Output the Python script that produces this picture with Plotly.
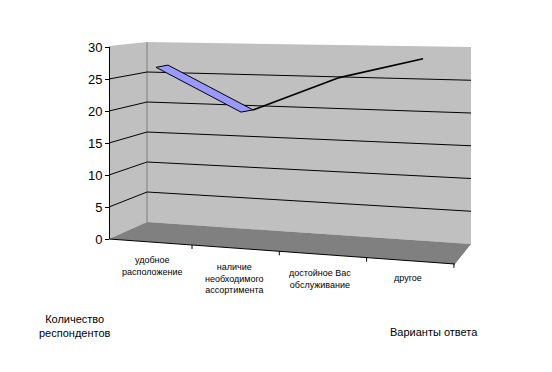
import plotly.graph_objects as go

# ---- data ----
CATEGORIES = ["удобное<br>расположение", "наличие<br>необходимого<br>ассортимента",
              "достойное Вас<br>обслуживание", "другое"]
VALUES = [27, 20, 25, 28]
Y_TICKS = [0, 5, 10, 15, 20, 25, 30]
Y_TITLE = "Количество<br>респондентов"
X_TITLE = "Варианты ответа"

# ---- layout constants (pixels) ----
W, H = 552, 372
L, R, T, B = 110, 471, 47, 239          # plot area in px
X0PX, XSTEP = 162.0, 85.0               # pixel of category 0, px per category
XR = [(L - X0PX) / XSTEP, (R - X0PX) / XSTEP]
DEPTH = (12 / XSTEP, 2.2 / 6.4)         # ribbon depth in data units

WALL = "#C0C0C0"
FLOOR = "#808080"
RIBBON = "#9999FF"
FONT = "Liberation Sans, Arial"


def P(px, py):
    return (px - L) / (R - L), (B - py) / (B - T)


def path(pts):
    s = []
    for i, (px, py) in enumerate(pts):
        x, y = P(px, py)
        s.append(("M" if i == 0 else "L") + f"{x:.5f},{y:.5f}")
    return " ".join(s) + " Z"


shapes = []
# side wall, back wall, floor
shapes.append(dict(type="path", xref="paper", yref="paper", layer="below",
                   path=path([(109, 46), (147, 42), (147, 222), (109, 239)]),
                   fillcolor=WALL, line=dict(width=0)))
shapes.append(dict(type="path", xref="paper", yref="paper", layer="below",
                   path=path([(147, 42), (471, 47), (471, 244), (147, 222)]),
                   fillcolor=WALL, line=dict(width=0)))
shapes.append(dict(type="path", xref="paper", yref="paper", layer="below",
                   path=path([(109, 239), (147, 222), (471, 244), (455, 264)]),
                   fillcolor=FLOOR, line=dict(width=0)))
# corner line
x1, y1 = P(147, 42)
x2, y2 = P(147, 222)
shapes.append(dict(type="line", xref="paper", yref="paper", layer="below",
                   x0=x1, y0=y1, x1=x2, y1=y2, line=dict(color="#808080", width=1)))
# wall gridlines
for v in Y_TICKS[1:-1]:
    a = P(109, B - 6.4 * v)
    b = P(147, 222 - 6.0 * v)
    c = P(471, 244 - 6.55 * v)
    shapes.append(dict(type="line", xref="paper", yref="paper", layer="below",
                       x0=a[0], y0=a[1], x1=b[0], y1=b[1], line=dict(color="black", width=1)))
    shapes.append(dict(type="line", xref="paper", yref="paper", layer="below",
                       x0=b[0], y0=b[1], x1=c[0], y1=c[1], line=dict(color="black", width=1)))
# front category edge + ticks
a = P(109, 239)
b = P(455, 264)
shapes.append(dict(type="line", xref="paper", yref="paper",
                   x0=a[0], y0=a[1], x1=b[0], y1=b[1], line=dict(color="black", width=1)))
for k in range(len(CATEGORIES)):
    tx = 192 + 87.3 * k
    ty = 239 + (tx - 109) * (25 / 346)
    p1 = P(tx, ty)
    p2 = P(tx, ty + 4)
    shapes.append(dict(type="line", xref="paper", yref="paper",
                       x0=p1[0], y0=p1[1], x1=p2[0], y1=p2[1], line=dict(color="black", width=1)))

fig = go.Figure()
xs = list(range(len(VALUES)))
dx, dy = DEPTH
for i in range(len(VALUES) - 1):
    xa, xb = xs[i], xs[i + 1]
    ya, yb = VALUES[i], VALUES[i + 1]
    if yb < ya:
        # ribbon top face visible
        px = [xa - dx / 2, xb - dx / 2, xb + dx / 2, xa + dx / 2, xa - dx / 2]
        py = [ya - dy / 2, yb - dy / 2, yb + dy / 2, ya + dy / 2, ya - dy / 2]
        fig.add_trace(go.Scatter(x=px, y=py, mode="lines", fill="toself",
                                 fillcolor=RIBBON, line=dict(color="black", width=1),
                                 hoverinfo="skip", showlegend=False))
    else:
        # ribbon seen edge-on
        fig.add_trace(go.Scatter(x=[xa + dx / 2, xb + dx / 2], y=[ya + dy / 2, yb + dy / 2],
                                 mode="lines", line=dict(color="black", width=1.6),
                                 hoverinfo="skip", showlegend=False))

# category labels
label_y = [266, 278, 278.5, 278]
label_x = [152, 234, 320, 408]
annotations = []
for i, cat in enumerate(CATEGORIES):
    annotations.append(dict(x=P(label_x[i], 0)[0], xref="paper", y=P(0, label_y[i])[1], yref="paper",
                            text=cat, showarrow=False, xanchor="center", yanchor="middle",
                            font=dict(family=FONT, size=9, color="black")))
annotations.append(dict(x=P(75, 0)[0], y=P(0, 326)[1], xref="paper", yref="paper",
                        text=Y_TITLE, showarrow=False, xanchor="center", yanchor="middle",
                        font=dict(family=FONT, size=11, color="black")))
annotations.append(dict(x=P(434, 0)[0], y=P(0, 332)[1], xref="paper", yref="paper",
                        text=X_TITLE, showarrow=False, xanchor="center", yanchor="middle",
                        font=dict(family=FONT, size=11, color="black")))

fig.update_layout(
    width=W, height=H,
    margin=dict(l=L, r=W - R, t=T, b=H - B, pad=0),
    paper_bgcolor="white", plot_bgcolor="rgba(0,0,0,0)",
    shapes=shapes, annotations=annotations, showlegend=False,
    xaxis=dict(range=XR, visible=False, fixedrange=True),
    yaxis=dict(range=[0, 30], tickvals=Y_TICKS, showgrid=False, zeroline=False,
               showline=True, linecolor="black", linewidth=1, fixedrange=True,
               ticks="outside", ticklen=4, tickcolor="black",
               tickfont=dict(family=FONT, size=13, color="black")),
)

fig.write_html("out.html", config={"displayModeBar": False, "staticPlot": True},
               post_script="document.body.style.margin='0';document.body.style.overflow='hidden';")
